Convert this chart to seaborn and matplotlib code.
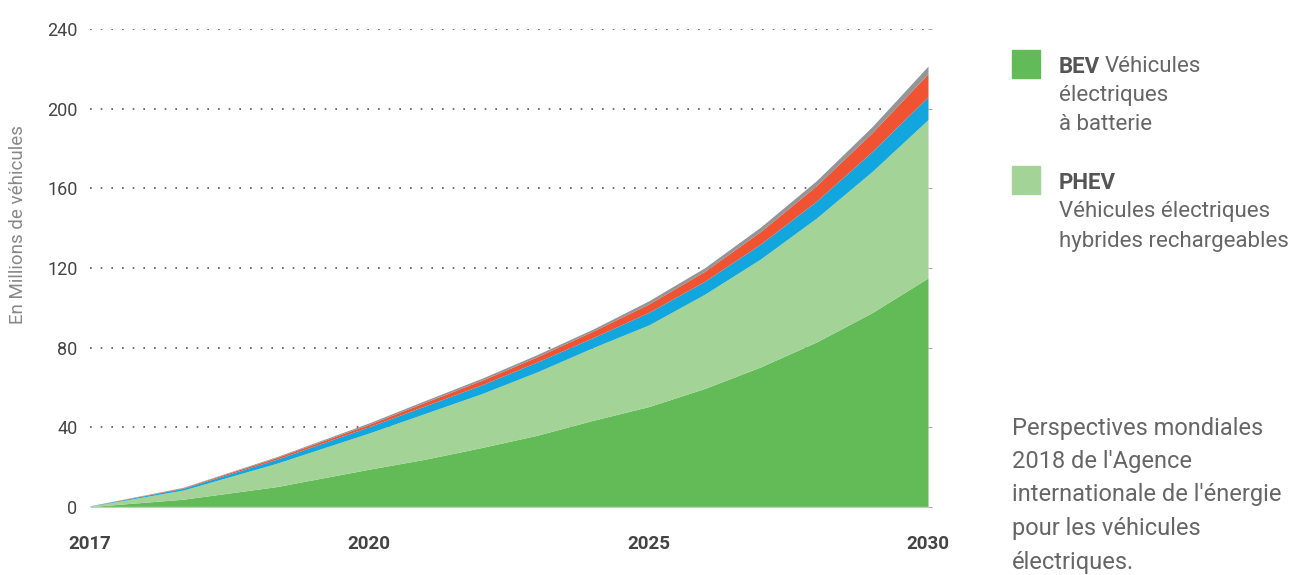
import matplotlib
matplotlib.use("Agg")
import matplotlib.pyplot as plt
import seaborn as sns
import numpy as np

# values (millions of vehicles, stacked layers)
years = [2017, 2018, 2019, 2020, 2021, 2022, 2023, 2024, 2025, 2026, 2027, 2028, 2029, 2030]
bev = [0.2, 3.9, 10.2, 19.0, 24.0, 29.8, 36.0, 43.5, 50.4, 59.5, 70.3, 82.8, 97.6, 115.0]
phev = [0.2, 4.6, 11.7, 18.2, 23.0, 27.0, 31.8, 36.5, 41.0, 47.3, 54.2, 62.2, 70.9, 79.5]
blue = [0.1, 0.9, 2.0, 3.2, 3.8, 4.4, 5.0, 5.0, 6.3, 6.5, 7.5, 8.5, 10.0, 11.5]
red = [0.05, 0.3, 0.9, 1.2, 1.8, 2.3, 2.6, 3.3, 4.2, 5.0, 6.3, 7.8, 9.5, 11.6]
grey = [0.05, 0.2, 0.4, 0.7, 0.9, 1.0, 1.1, 1.0, 1.6, 1.8, 2.2, 2.5, 3.0, 3.8]

tick_years = [2017, 2020, 2025, 2030]
y_ticks = [0, 40, 80, 120, 160, 200, 240]

colors = ["#62bb57", "#a3d397", "#12a6de", "#f05332", "#939598"]

sns.set_theme(style="white")
plt.rcParams['font.family'] = ['Roboto', 'DejaVu Sans']

fig = plt.figure(figsize=(13.09, 5.75), dpi=100)
ax = fig.add_axes([90 / 1309, 1 - 507 / 575, (928 - 90) / 1309, (507 - 29) / 575])

# the x axis is spaced evenly between the labelled years
xpos = np.interp(years, tick_years, np.arange(len(tick_years)))

ax.stackplot(xpos, bev, phev, blue, red, grey, colors=colors, linewidth=0, zorder=3)

ax.set_xlim(0, 3)
ax.set_ylim(0, 240)

for v in y_ticks[1:]:
    ax.axhline(v, color="#555555", linestyle=(0, (1, 5.4)), linewidth=1.2, zorder=1)
ax.axhline(0, color="#cccccc", linewidth=1, zorder=4)

ax.set_yticks(y_ticks)
ax.set_yticklabels([str(v) for v in y_ticks], color="#444444", fontsize=13)
ax.set_xticks(range(len(tick_years)))
ax.set_xticklabels([str(y) for y in tick_years], color="#444444", fontsize=13.5, fontweight="bold")
ax.tick_params(axis="y", left=False, right=True, labelright=False, length=3, width=0.8,
               color="#aaaaaa", pad=6)
ax.tick_params(axis="x", bottom=False, pad=14)
for s in ax.spines.values():
    s.set_visible(False)
ax.grid(False)

fig.text(18 / 1309, 1 - 225 / 575, "En Millions de véhicules", rotation=90, ha="center", va="center",
         color="#888888", fontsize=13.5)

# legend
fig.patches.append(plt.Rectangle((1012 / 1309, 1 - 78 / 575), 28 / 1309, 28 / 575,
                                 transform=fig.transFigure, color=colors[0]))
fig.patches.append(plt.Rectangle((1012 / 1309, 1 - 194 / 575), 28 / 1309, 28 / 575,
                                 transform=fig.transFigure, color=colors[1]))

fig.canvas.draw()
r = fig.canvas.get_renderer()
tx = 1059 / 1309
fs = 16
t = fig.text(tx, 1 - 67 / 575, "BEV", fontsize=fs, fontweight="bold", color="#555555", va="center")
ext = t.get_window_extent(r)
fig.text((ext.x1 + 5) / 1309, 1 - 67 / 575, "Véhicules", fontsize=fs, color="#666666", va="center")
fig.text(tx, 1 - 96 / 575, "électriques", fontsize=fs, color="#666666", va="center")
fig.text(tx, 1 - 125 / 575, "à batterie", fontsize=fs, color="#666666", va="center")
fig.text(tx, 1 - 183 / 575, "PHEV", fontsize=fs, fontweight="bold", color="#555555", va="center")
fig.text(tx, 1 - 212 / 575, "Véhicules électriques", fontsize=fs, color="#666666", va="center")
fig.text(tx, 1 - 241 / 575, "hybrides rechargeables", fontsize=fs, color="#666666", va="center")

source = ["Perspectives mondiales", "2018 de l'Agence", "internationale de l'énergie",
          "pour les véhicules", "électriques."]
for i, line in enumerate(source):
    fig.text(1012 / 1309, 1 - (428 + i * 33.5) / 575, line, fontsize=17, color="#666666", va="center")

fig.savefig("out.png", dpi=100)
